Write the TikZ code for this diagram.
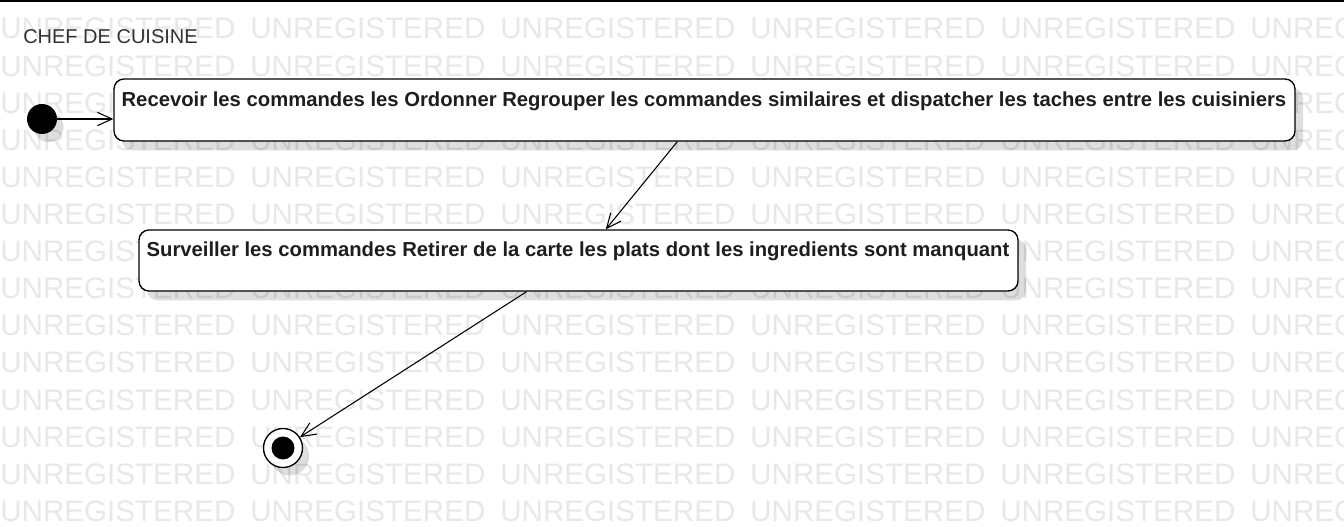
\documentclass[tikz,border=0pt]{standalone}
\usepackage{fontspec}
\setmainfont{Liberation Sans}
\usetikzlibrary{arrows.meta,shadows,calc}
\definecolor{wm}{HTML}{E8E8E8}
\definecolor{txt}{HTML}{1E1E1E}
\tikzset{
  statebox/.style={draw=black, line width=1pt, rounded corners=7.5pt, fill=white,
    drop shadow={shadow xshift=6pt, shadow yshift=-7pt, opacity=0.13, fill=black}},
  boxtext/.style={anchor=base west, inner sep=0pt, text=txt, font=\fontsize{15.2pt}{18pt}\selectfont\bfseries},
  flow/.style={draw=black, line width=0.8pt, -{Straight Barb[length=11pt,width=10pt,line width=0.8pt]}},
  wmark/.style={anchor=base west, inner sep=0pt, text=wm, font=\fontsize{22.2pt}{24pt}\selectfont}
}
\begin{document}
\begin{tikzpicture}[x=0.75pt,y=-0.75pt]
\useasboundingbox (0,0) rectangle (1344,527);
\fill[white] (0,0) rectangle (1344,527);
% watermark
\foreach \j in {0,...,13}{
  \foreach \i in {0,...,5}{
    \node[wmark] at ({250*\i},{39+37.1*\j}) {UNREGISTERED};
  }
}
\draw[line width=1.5pt] (0,1) -- (1344,1);
\node[anchor=base west, inner sep=0pt, text=black!80, font=\fontsize{15pt}{18pt}\selectfont] (title) at (23,44) {CHEF DE CUISINE};
% nodes
\node[circle, fill=black, minimum size=22.5pt, inner sep=0pt,
  drop shadow={shadow xshift=5pt, shadow yshift=-6pt, opacity=0.13, fill=black}] (init) at (42,119) {};
\node[statebox, minimum width=885.75pt, minimum height=46.5pt, inner sep=0pt] (b1) at (704.5,110) {};
\node[boxtext] (t1) at ($(b1.north west)+(8,28)$) {Recevoir les commandes les Ordonner Regrouper les commandes similaires et dispatcher les taches entre les cuisiniers};
\node[statebox, minimum width=659.25pt, minimum height=45.75pt, inner sep=0pt] (b2) at (578.5,260.5) {};
\node[boxtext] (t2) at ($(b2.north west)+(8,27)$) {Surveiller les commandes Retirer de la carte les plats dont les ingredients sont manquant};
\node[circle, draw=black, line width=1pt, fill=white, minimum size=29.25pt, inner sep=0pt,
  drop shadow={shadow xshift=5pt, shadow yshift=-6pt, opacity=0.13, fill=black},
  path picture={\fill[black] (path picture bounding box.center) circle (8.6pt);}] (fin) at (283,448) {};
% connectors
\draw[flow] (init.east) -- (b1.west |- init.east);
\draw[flow] ($(b1.south west)!0.477!(b1.south east)$) -- ($(b2.north west)!0.531!(b2.north east)$);
\draw[flow] ($(b2.south west)!0.441!(b2.south east)$) -- (fin);
\end{tikzpicture}
\end{document}
